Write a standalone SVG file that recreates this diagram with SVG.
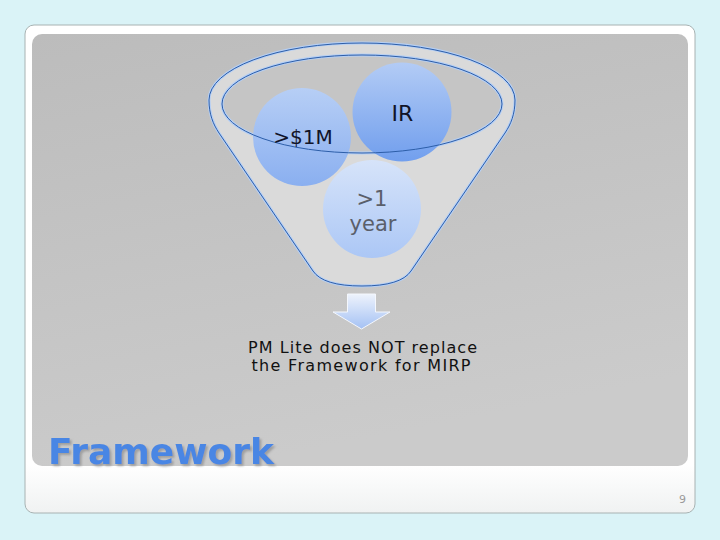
<svg xmlns="http://www.w3.org/2000/svg" width="720" height="540" viewBox="0 0 720 540">
<defs>
<linearGradient id="panelG" x1="0" y1="0" x2="0.3" y2="1">
<stop offset="0" stop-color="#bcbcbc"/>
<stop offset="1" stop-color="#cbcbcb"/>
</linearGradient>
<linearGradient id="cardG" x1="0" y1="0" x2="0" y2="1">
<stop offset="0.9" stop-color="#ffffff"/>
<stop offset="1" stop-color="#f0f2f2"/>
</linearGradient>
<linearGradient id="c1" x1="0" y1="0" x2="0" y2="1">
<stop offset="0" stop-color="#b6cff8"/>
<stop offset="1" stop-color="#86adf1"/>
</linearGradient>
<linearGradient id="c2" x1="0" y1="0" x2="0" y2="1">
<stop offset="0" stop-color="#b2ccf8"/>
<stop offset="1" stop-color="#6c9cef"/>
</linearGradient>
<linearGradient id="c3" x1="0" y1="0" x2="0" y2="1">
<stop offset="0" stop-color="#d6e4fb"/>
<stop offset="1" stop-color="#a9c6f7"/>
</linearGradient>
<linearGradient id="arrG" x1="0" y1="0" x2="0" y2="1">
<stop offset="0" stop-color="#eef3fc"/>
<stop offset="1" stop-color="#a4c1f4"/>
</linearGradient>
<filter id="sh" x="-10%" y="-20%" width="120%" height="150%">
<feGaussianBlur in="SourceAlpha" stdDeviation="0.8" result="b"/>
<feOffset in="b" dx="2" dy="2" result="o"/>
<feFlood flood-color="#8c8c8c" flood-opacity="0.7"/>
<feComposite in2="o" operator="in" result="s"/>
<feMerge><feMergeNode in="s"/><feMergeNode in="SourceGraphic"/></feMerge>
</filter>
</defs>
<style>
.glow{fill:none;stroke:#b5cff5;stroke-width:3}
.line{fill:none;stroke:#2d5ea8;stroke-width:1}
.t{font-family:"DejaVu Sans",Verdana,sans-serif;text-anchor:middle}
</style>
<rect x="0" y="0" width="720" height="540" fill="#daf3f7"/>
<rect x="25" y="25" width="670" height="488" rx="9" fill="url(#cardG)" stroke="#a8b2b2" stroke-width="1"/>
<rect x="32" y="34" width="656" height="432" rx="10" fill="url(#panelG)"/>

<g id="funnel">
<path d="M209,100 A153,57 0 0 1 515,100 C515,114 511,124 505,133 L411,271 Q401,286 362,286 Q323,286 313,271 L219,133 C213,124 209,114 209,100 Z" fill="#dadada"/>
<path class="glow" d="M209,100 A153,57 0 0 1 515,100 C515,114 511,124 505,133 L411,271 Q401,286 362,286 Q323,286 313,271 L219,133 C213,124 209,114 209,100 Z"/>
<path class="line" d="M209,100 A153,57 0 0 1 515,100 C515,114 511,124 505,133 L411,271 Q401,286 362,286 Q323,286 313,271 L219,133 C213,124 209,114 209,100 Z"/>
<ellipse cx="362" cy="104" rx="140" ry="49" fill="#c5c5c5"/>
<ellipse class="glow" cx="362" cy="104" rx="140" ry="49" stroke-width="2.5"/>
</g>

<g id="node-1m">
<circle cx="302" cy="137" r="49" fill="url(#c1)" opacity="0.95"/>
</g>
<g id="node-ir">
<circle cx="402" cy="112" r="49.5" fill="url(#c2)" opacity="0.95"/>
</g>
<g id="node-year">
<circle cx="372" cy="209" r="49" fill="url(#c3)" opacity="0.95"/>
</g>
<ellipse class="line" cx="362" cy="104" rx="140" ry="49"/>
<text class="t" x="303" y="144" font-size="20" fill="#111428">&gt;$1M</text>
<text class="t" x="402.5" y="121" font-size="22" fill="#111428">IR</text>
<text class="t" x="372" y="206" font-size="21" fill="#5a5f6a">&gt;1</text>
<text class="t" x="373" y="231" font-size="21" fill="#5a5f6a">year</text>

<g id="connectors">
<path d="M347.5,294 L375.5,294 L375.5,312 L390,312 L361.5,329 L333,312 L347.5,312 Z" fill="url(#arrG)" stroke="#f4f7fd" stroke-width="1"/>
</g>

<g id="caption">
<text class="t" x="362.5" y="353" font-size="16" textLength="229" lengthAdjust="spacing" fill="#111111">PM Lite does NOT replace</text>
<text class="t" x="361" y="371" font-size="16" textLength="219" lengthAdjust="spacing" fill="#111111">the Framework for MIRP</text>
</g>

<g id="title">
<text x="48" y="464" font-family="'DejaVu Sans',Verdana,sans-serif" font-weight="bold" font-size="36" fill="#4a86e4" filter="url(#sh)">Framework</text>
</g>
<text x="686" y="503" font-family="'DejaVu Sans',Verdana,sans-serif" font-size="11" fill="#9a9a9a" text-anchor="end">9</text>
</svg>
